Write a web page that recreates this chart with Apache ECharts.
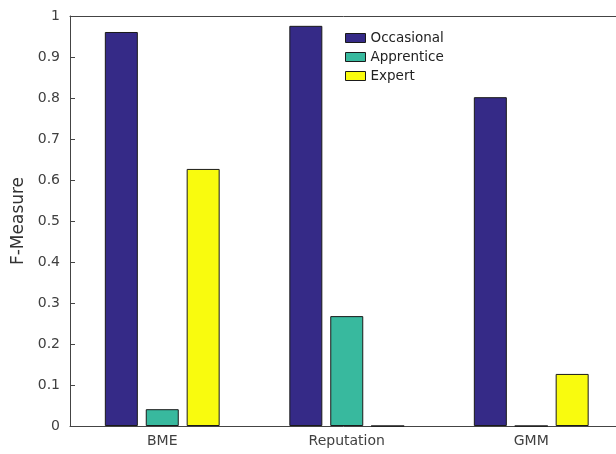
<!DOCTYPE html>
<html><head><meta charset="utf-8">
<script src="https://cdn.jsdelivr.net/npm/echarts@6/dist/echarts.min.js"></script>
<style>html,body{margin:0;padding:0;background:#fff}#c{width:616px;height:454px}</style>
</head><body><div id="c"></div>
<script>
const categories = ["BME", "Reputation", "GMM"];
const occasional = [0.961, 0.976, 0.802];
const apprentice = [0.041, 0.268, 0.0];
const expert = [0.627, 0.0, 0.127];
const seriesNames = ["Occasional", "Apprentice", "Expert"];
const colors = ["#352a87", "#38b99e", "#f9fb0e"];

const chart = echarts.init(document.getElementById('c'), null, {renderer: 'canvas'});
const axisCol = '#444';
const mk = (name, data, color) => ({
  name, type: 'bar', data, barWidth: 33, barGap: '24%',
  itemStyle: {color, borderColor: '#1a1a1a', borderWidth: 1},
  emphasis: {disabled: true}
});
chart.setOption({
  animation: false,
  textStyle: {fontFamily: 'DejaVu Sans'},
  grid: {left: 70, top: 16, height: 410, width: 553.5, outerBoundsMode: 'none', containLabel: false},
  legend: {
    left: 340, top: 26, orient: 'vertical', icon: 'rect', itemWidth: 20, itemHeight: 9, itemGap: 5,
    textStyle: {fontSize: 13.5, color: '#222', fontFamily: 'DejaVu Sans'},
    data: seriesNames.map((n, i) => ({name: n, itemStyle: {borderColor: '#1a1a1a', borderWidth: 1}}))
  },
  xAxis: [{
    type: 'category', data: categories, position: 'bottom',
    axisLine: {lineStyle: {color: axisCol, width: 1}},
    axisTick: {inside: true, alignWithLabel: true, length: 4, lineStyle: {color: axisCol}},
    axisLabel: {fontSize: 14, color: '#404040', margin: 8, fontFamily: 'DejaVu Sans'}
  }, {
    type: 'category', data: categories, position: 'top',
    axisLine: {lineStyle: {color: axisCol, width: 1}},
    axisTick: {inside: true, alignWithLabel: true, length: 4, lineStyle: {color: axisCol}},
    axisLabel: {show: false}
  }],
  yAxis: {
    type: 'value', min: 0, max: 1, interval: 0.1,
    name: 'F-Measure', nameLocation: 'middle', nameGap: 39, nameRotate: 90,
    nameTextStyle: {fontSize: 17, color: '#333', fontFamily: 'DejaVu Sans'},
    axisLine: {show: true, lineStyle: {color: axisCol, width: 1}},
    axisTick: {show: true, inside: true, length: 5, lineStyle: {color: axisCol}},
    splitLine: {show: false},
    axisLabel: {fontSize: 14, color: '#404040', margin: 10, fontFamily: 'DejaVu Sans',
      formatter: v => String(Math.round(v * 10) / 10)}
  },
  series: [mk(seriesNames[0], occasional, colors[0]), mk(seriesNames[1], apprentice, colors[1]), mk(seriesNames[2], expert, colors[2])]
});
</script></body></html>
